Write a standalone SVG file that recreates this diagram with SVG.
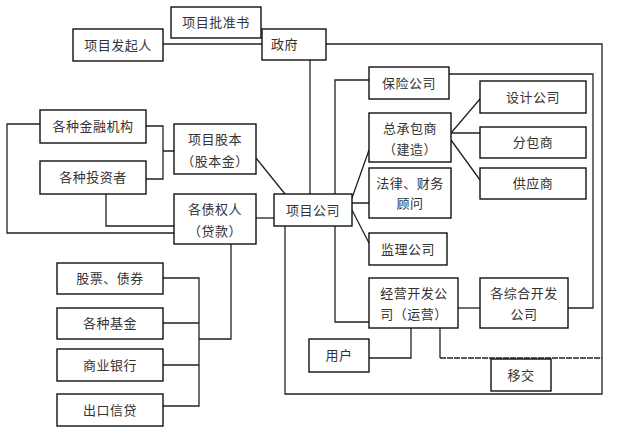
<svg xmlns="http://www.w3.org/2000/svg" width="627" height="441" viewBox="0 0 627 441">
<style>
.b{fill:#fff;stroke:#111;stroke-width:1.4}
.t{font-family:"Noto Sans CJK SC","Noto Sans",sans-serif;font-size:13px;fill:#333;text-anchor:middle;letter-spacing:0.5px}
.l{fill:none;stroke:#222;stroke-width:1.3}
.d{fill:none;stroke:#222;stroke-width:1.5;stroke-dasharray:6 1}
</style>
<rect width="627" height="441" fill="#fff"/>
<g id="connectors">
<path class="l" d="M163,44H262"/>
<path class="l" d="M326,44H602V394H285V226"/>
<path class="l" d="M310,60V194"/>
<path class="l" d="M449,74H593V308H568"/>
<path class="l" d="M369,80H335V322H369"/>
<path class="l" d="M352,198L369,150M352,203H369M352,210L369,243"/>
<path class="l" d="M451,133L480,99M451,133H480M451,140L480,180"/>
<path class="l" d="M458,308H480"/>
<path class="l" d="M411,328V358H369"/>
<path class="l" d="M440,328V358"/>
<path class="d" d="M440,358H602"/>
<path class="l" d="M146,126H163V179H146M163,151H174"/>
<path class="l" d="M40,124H7V233H174"/>
<path class="l" d="M106,194V226H174"/>
<path class="l" d="M256,218H274"/>
<path class="l" d="M256,158L285,194"/>
<path class="l" d="M231,244V339H199"/>
<path class="l" d="M163,278H199V406H163M163,323H199M163,365H199"/>
</g>
<g id="n-pizhun"><rect class="b" x="171" y="7" width="90" height="31"/><text class="t" x="216" y="27">项目批准书</text></g>
<g id="n-faqiren"><rect class="b" x="73" y="29" width="90" height="32"/><text class="t" x="118" y="50">项目发起人</text></g>
<g id="n-zhengfu"><rect class="b" x="262" y="29" width="64" height="31"/><text class="t" x="271" y="49" style="text-anchor:start">政府</text></g>
<g id="n-baoxian"><rect class="b" x="369" y="67" width="80" height="32"/><text class="t" x="409" y="88">保险公司</text></g>
<g id="n-sheji"><rect class="b" x="480" y="81" width="106" height="32"/><text class="t" x="533" y="102">设计公司</text></g>
<g id="n-zongcheng"><rect class="b" x="369" y="113" width="82" height="49"/><text class="t" x="410" y="133">总承包商</text><text class="t" x="410" y="154">（建造）</text></g>
<g id="n-fenbao"><rect class="b" x="480" y="127" width="106" height="31"/><text class="t" x="533" y="147">分包商</text></g>
<g id="n-falv"><rect class="b" x="369" y="168" width="82" height="50"/><text class="t" x="410" y="188">法律、财务</text><text class="t" x="410" y="208">顾问</text></g>
<g id="n-gongying"><rect class="b" x="480" y="168" width="106" height="31"/><text class="t" x="533" y="188">供应商</text></g>
<g id="n-jinrong"><rect class="b" x="40" y="110" width="106" height="33"/><text class="t" x="93" y="131">各种金融机构</text></g>
<g id="n-touzi"><rect class="b" x="40" y="161" width="106" height="33"/><text class="t" x="93" y="182">各种投资者</text></g>
<g id="n-guben"><rect class="b" x="174" y="124" width="82" height="50"/><text class="t" x="215" y="144">项目股本</text><text class="t" x="215" y="166">（股本金）</text></g>
<g id="n-zhaiquan"><rect class="b" x="174" y="194" width="82" height="50"/><text class="t" x="215" y="214">各债权人</text><text class="t" x="215" y="236">（贷款）</text></g>
<g id="n-xiangmu"><rect class="b" x="274" y="194" width="78" height="32"/><text class="t" x="313" y="215">项目公司</text></g>
<g id="n-jianli"><rect class="b" x="369" y="233" width="78" height="32"/><text class="t" x="408" y="254">监理公司</text></g>
<g id="n-jingying"><rect class="b" x="369" y="278" width="89" height="50"/><text class="t" x="414" y="298">经营开发公</text><text class="t" x="414" y="319">司（运营）</text></g>
<g id="n-zonghe"><rect class="b" x="480" y="278" width="88" height="50"/><text class="t" x="524" y="298">各综合开发</text><text class="t" x="524" y="319">公司</text></g>
<g id="n-yonghu"><rect class="b" x="309" y="339" width="60" height="33"/><text class="t" x="339" y="360">用户</text></g>
<g id="n-yijiao"><rect class="b" x="491" y="359" width="60" height="32"/><text class="t" x="521" y="380">移交</text></g>
<g id="n-gupiao"><rect class="b" x="57" y="263" width="106" height="31"/><text class="t" x="110" y="283">股票、债券</text></g>
<g id="n-jijin"><rect class="b" x="57" y="308" width="106" height="31"/><text class="t" x="110" y="328">各种基金</text></g>
<g id="n-yinhang"><rect class="b" x="57" y="349" width="106" height="32"/><text class="t" x="110" y="370">商业银行</text></g>
<g id="n-xindai"><rect class="b" x="57" y="394" width="106" height="32"/><text class="t" x="110" y="415">出口信贷</text></g>
</svg>
